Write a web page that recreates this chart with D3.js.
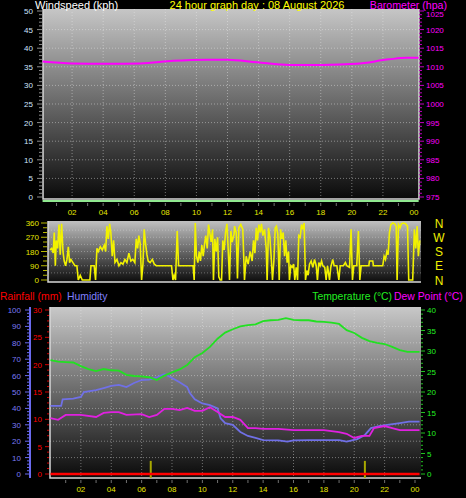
<!DOCTYPE html>
<html><head><meta charset="utf-8">
<script src="https://cdn.jsdelivr.net/npm/d3@7/dist/d3.min.js"></script>
<style>html,body{margin:0;padding:0;background:#000;}svg{display:block;font-family:"Liberation Sans",Arial,sans-serif;}</style>
</head><body>
<script>
// ---------- DATA ----------
const hourTicks = [2,4,6,8,10,12,14,16,18,20,22,24];
const hourLabels = ["02","04","06","08","10","12","14","16","18","20","22","00"];
const windTicks = [0,5,10,15,20,25,30,35,40,45,50];
const baroTicks = [975,980,985,990,995,1000,1005,1010,1015,1020,1025];
const dirTicks = [0,90,180,270,360];
const dirLetters = ["N","E","S","W","N"];
const humTicks = [0,10,20,30,40,50,60,70,80,90,100];
const rainTicks = [0,5,10,15,20,25,30];
const tempTicks = [0,5,10,15,20,25,30,35,40];

const baroHours = [0.1,2,4.2,6.4,8.5,10.7,12,13.9,16,18.1,20.3,22.4,23.5,24.3];
const baroValues = [1011.4,1010.9,1010.8,1010.9,1011.6,1011.9,1011.9,1011.2,1010.5,1010.5,1010.8,1012.0,1012.4,1012.4];
const windSpeedHours = [0.1,24.3];
const windSpeedValues = [0,0];

const dirHours = [0.13,0.24,0.34,0.41,0.48,0.54,0.63,0.72,0.80,0.89,0.98,1.06,1.15,1.24,1.33,1.41,1.50,1.63,1.76,1.89,1.98,2.11,2.24,2.52,2.74,2.81,3.02,3.11,3.20,3.29,3.42,3.55,3.68,3.77,3.85,3.94,4.03,4.11,4.20,4.29,4.38,4.51,4.64,4.77,4.90,5.03,5.16,5.29,5.42,5.55,5.68,5.77,5.86,5.94,6.03,6.12,6.21,6.29,6.38,6.47,6.55,6.68,6.82,6.95,7.08,8.08,8.17,8.25,8.34,8.45,8.54,9.49,9.56,9.63,9.71,9.80,9.89,9.97,10.06,10.15,10.24,10.32,10.41,10.50,10.58,10.67,10.76,10.82,10.91,11.00,11.09,11.17,11.26,11.35,11.43,11.52,11.61,11.70,11.78,11.87,11.96,12.04,12.17,
12.20,12.31,12.39,12.48,12.61,12.74,12.85,12.96,13.09,13.22,13.35,13.44,13.53,13.62,13.70,13.79,13.88,13.96,14.05,14.16,14.27,14.33,14.42,14.51,14.60,14.68,14.77,14.86,14.94,15.03,15.12,15.21,15.29,15.38,15.47,15.55,15.64,15.73,15.79,15.88,15.97,16.06,16.14,16.23,16.32,16.40,16.49,16.58,16.67,16.75,16.84,16.93,17.01,17.10,17.21,17.32,17.43,17.54,17.62,17.71,17.80,17.89,17.97,18.10,18.19,18.28,18.41,18.49,18.62,18.71,18.89,19.02,19.11,19.32,19.45,19.54,19.72,19.82,19.91,20.00,20.19,20.30,20.39,20.48,20.98,21.02,21.24,21.28,21.89,21.98,22.07,22.16,22.24,22.33,22.42,22.55,22.68,22.77,22.83,22.92,23.03,23.11,23.24,23.38,23.51,23.59,23.85,23.96,24.05,24.14,24.22,24.31];
const dirValues = [190,200,170,300,90,250,200,350,160,355,180,120,90,130,210,110,130,110,90,90,0,30,0,0,0,90,90,0,200,180,210,190,220,180,340,260,355,300,150,250,110,130,90,110,100,130,110,170,120,130,110,260,200,280,230,0,100,320,230,160,120,110,130,100,90,90,0,30,0,310,90,90,0,360,150,110,180,120,220,150,230,280,200,350,300,240,320,0,260,180,270,20,0,0,250,190,300,355,200,0,310,240,290,
340,300,10,330,350,320,0,150,100,180,120,250,170,330,250,350,300,355,280,320,200,0,330,270,140,0,120,330,340,290,0,320,260,300,150,250,110,180,0,90,80,100,0,80,0,280,270,350,320,360,0,60,30,100,120,80,130,90,0,110,90,120,90,80,0,90,0,80,130,90,90,0,90,90,110,90,80,320,0,90,90,310,0,90,90,120,120,90,90,150,130,180,160,300,350,360,355,340,0,350,330,355,360,355,340,0,0,320,200,340,150,250];

const tempHours = [0,0.5,1,1.5,2,2.5,3,3.5,4,4.5,5,5.5,6,6.5,7,7.5,8,8.5,9,9.5,10,10.5,11,11.5,12,12.5,13,13.5,14,14.5,15,15.5,16,16.5,17,17.5,18,18.5,19,19.5,20,20.5,21,21.5,22,22.5,23,23.5,24.3];
const tempValues = [27.8,27.4,27.3,27.2,26.3,25.6,25.1,25.6,25.3,25.2,24.2,23.9,23.8,23.6,22.9,24.0,24.8,25.5,26.6,28.5,29.5,31.0,33.0,34.5,35.3,36.0,36.3,36.5,37.3,37.5,37.6,38.0,37.6,37.5,37.5,37.2,37.1,36.9,36.6,35.1,34.4,33.2,32.4,32.0,31.7,31.0,30.2,29.8,29.8];
const humHours = [0,0.7,0.8,1.5,2,2.2,3,3.5,4,4.5,5,5.5,6,6.5,7,7.5,8,8.5,9,9.2,9.5,10,10.5,11,11.2,11.5,12,12.5,13,13.5,14,15,15.6,16,17,18,19,19.5,20.2,20.7,21.1,21.7,23,23.6,24.3];
const humValues = [41.5,41.5,45.5,46,47,50,51.2,52.4,53.7,54.3,53,55.5,57.3,57.5,59,61,58.5,56,53,49,45.5,43,42,40,34,31,30,25.6,23.2,22,20.7,20.5,19.7,20.5,20.7,20.7,20.7,19.7,21.3,23.8,28,29.3,31,31.9,31.9];
const dewHours = [0,0.5,1,2,3,3.5,4,4.5,5,6,6.5,7,7.5,8,8.5,9,9.5,10,10.5,11,11.5,12,12.5,13,13.5,14,15,16,17,18,19,19.5,20,20.5,21,21.3,22,22.5,23,23.5,24.3];
const dewValues = [13.6,13.2,14.4,14.4,13.9,14.9,15.1,15.1,14.4,14.6,13.9,14.4,15.9,15.9,15.6,16.1,15.4,15.4,16.3,15.1,13.9,13.9,13.2,11.2,11.2,11.0,11.0,10.7,10.7,10.7,10.2,9.8,8.8,9.3,9.3,11.2,11.7,11.2,10.7,10.7,10.7];
const rainHours = [0,24.3];
const rainValues = [0,0];
const rainRateHours = [6.6,20.7];
const rainRateValues = [2.4,2.4];

// ---------- CHART ----------
const W=466,H=498;
const svg=d3.select("body").append("svg").attr("width",W).attr("height",H);
svg.append("rect").attr("width",W).attr("height",H).attr("fill","#000");
const defs=svg.append("defs");
function grad(id,c1,c2){const g=defs.append("linearGradient").attr("id",id).attr("x1",0).attr("y1",0).attr("x2",0).attr("y2",1);
 g.append("stop").attr("offset","0%").attr("stop-color",c1);g.append("stop").attr("offset","100%").attr("stop-color",c2);}
grad("gTop","#c6c6c6","#0a0a0a");grad("gMid","#c0c0c0","#0c0c0c");grad("gBot","#c8c8c8","#0a0a0a");

const tickFont="8px", YEL="#e6e600";
function label(x,y,t,col,anchor,size){svg.append("text").attr("x",x).attr("y",y).attr("fill",col).attr("font-size",size||tickFont).attr("text-anchor",anchor||"start").text(t);}

// ===== TOP PANEL =====
const xTop=d3.scaleLinear().domain([0,24]).range([41,414]);
const yWind=d3.scaleLinear().domain([0,50]).range([197,11]);
const yBaro=d3.scaleLinear().domain([975,1025]).range([197,11]);
const topL=xTop(0.13), topR=xTop(24.32), topT=9, topB=199;
svg.append("rect").attr("x",topL).attr("y",topT).attr("width",topR-topL).attr("height",topB-topT).attr("fill","url(#gTop)");
const gTop=svg.append("g");
gTop.selectAll(".hg").data(windTicks.slice(1,-1)).join("line").attr("x1",topL).attr("x2",topR).attr("y1",d=>yWind(d)).attr("y2",d=>yWind(d)).attr("stroke","rgba(235,235,235,0.45)").attr("stroke-dasharray","1,2");
gTop.selectAll(".vg").data(hourTicks.slice(0,-1)).join("line").attr("y1",topT).attr("y2",topB).attr("x1",d=>xTop(d)).attr("x2",d=>xTop(d)).attr("stroke","rgba(235,235,235,0.45)").attr("stroke-dasharray","1,2");
svg.append("path").attr("d",`M${topL},${topT}V${topB}H${topR}V${topT}`).attr("fill","none").attr("stroke","#d8d8d8").attr("stroke-width",1.5);
svg.append("path").datum(windSpeedHours.map((h,i)=>[h,windSpeedValues[i]])).attr("d",d3.line().x(d=>xTop(d[0])).y(d=>yWind(d[1])+4)).attr("stroke","#90e890").attr("stroke-width",2).attr("fill","none");
svg.append("g").selectAll("line").data(d3.range(0,51,1)).join("line").attr("x1",d=>d%5?39:37).attr("x2",42).attr("y1",d=>yWind(d)).attr("y2",d=>yWind(d)).attr("stroke","#8c8c8c");
windTicks.forEach(v=>label(33,yWind(v)+3,v,"#cfe4ff","end"));
svg.append("g").selectAll("line").data(d3.range(975,1026,1)).join("line").attr("x1",topR).attr("x2",d=>d%5?topR+3:topR+5).attr("y1",d=>yBaro(d)).attr("y2",d=>yBaro(d)).attr("stroke","#c000c0");
baroTicks.forEach(v=>label(426,yBaro(v)+(v===1025?6:3),v,"#ff00ff","start"));
svg.append("g").selectAll("line").data(d3.range(1,25)).join("line").attr("x1",d=>xTop(d)).attr("x2",d=>xTop(d)).attr("y1",203).attr("y2",206).attr("stroke","#707070");
hourTicks.forEach((h,i)=>label(xTop(h),215,hourLabels[i],YEL,"middle"));
svg.append("path").datum(baroHours.map((h,i)=>[h,baroValues[i]])).attr("d",d3.line().curve(d3.curveMonotoneX).x(d=>xTop(d[0])).y(d=>yBaro(d[1]))).attr("stroke","#ff00ff").attr("stroke-width",2).attr("fill","none");
label(35,9,"Windspeed (kph)","#ffffff","start","11px");
label(257,9,"24 hour graph day : 08 August 2026","#ffff00","middle","11px");
label(447,9,"Barometer (hpa)","#ff00ff","end","10.6px");

// ===== MIDDLE PANEL =====
const xMid=d3.scaleLinear().domain([0,24]).range([48,415]);
const yDir=d3.scaleLinear().domain([0,360]).range([280,223]);
const mL=48,mR=421,mT=221,mB=282;
svg.append("rect").attr("x",mL).attr("y",mT).attr("width",mR-mL).attr("height",mB-mT).attr("fill","url(#gMid)");
svg.append("g").selectAll("line").data([45,90,135,180,225,270,315]).join("line").attr("x1",mL).attr("x2",mR).attr("y1",d=>yDir(d)).attr("y2",d=>yDir(d)).attr("stroke","rgba(235,235,235,0.35)").attr("stroke-dasharray","1,2");
svg.append("path").attr("d",`M${mL},${mT}V${mB}H${mR}`).attr("fill","none").attr("stroke","#d8d8d8").attr("stroke-width",1.5);
svg.append("g").selectAll("line").data(d3.range(0,361,30)).join("line").attr("x1",d=>d%90?43:41).attr("x2",47).attr("y1",d=>yDir(d)).attr("y2",d=>yDir(d)).attr("stroke","#b8b800");
dirTicks.forEach(v=>label(39,yDir(v)+3,v,YEL,"end"));
dirTicks.forEach((v,i)=>label(439,yDir(v)+4.5,dirLetters[i],"#f0f000","middle","12px"));
svg.append("defs").append("clipPath").attr("id","cMid").append("rect").attr("x",mL).attr("y",mT).attr("width",mR-mL).attr("height",mB-mT);
svg.append("path").datum(dirHours.map((h,i)=>[h,dirValues[i]])).attr("clip-path","url(#cMid)").attr("d",d3.line().x(d=>xMid(d[0])).y(d=>yDir(d[1]))).attr("stroke","#f2f200").attr("stroke-width",1.6).attr("fill","none");

// ===== BOTTOM PANEL =====
const xBot=d3.scaleLinear().domain([0,24]).range([50.5,415]);
const yHum=d3.scaleLinear().domain([0,100]).range([474,310]);
const yRain=d3.scaleLinear().domain([0,30]).range([474,310]);
const yTemp=d3.scaleLinear().domain([0,40]).range([474,310]);
const bL=50,bR=421,bT=307,bB=478;
svg.append("rect").attr("x",bL).attr("y",bT).attr("width",bR-bL).attr("height",bB-bT).attr("fill","url(#gBot)");
svg.append("g").selectAll("line").data(humTicks.slice(1,-1)).join("line").attr("x1",bL).attr("x2",bR).attr("y1",d=>yHum(d)).attr("y2",d=>yHum(d)).attr("stroke","rgba(235,235,235,0.42)").attr("stroke-dasharray","1,2");
svg.append("g").selectAll("line").data(hourTicks.slice(0,-1)).join("line").attr("y1",bT).attr("y2",bB).attr("x1",d=>xBot(d)).attr("x2",d=>xBot(d)).attr("stroke","rgba(235,235,235,0.42)").attr("stroke-dasharray","1,2");
svg.append("path").attr("d",`M${bL},${bT}V${bB}H${bR}`).attr("fill","none").attr("stroke","#d8d8d8").attr("stroke-width",1.5);
svg.append("line").attr("x1",30).attr("x2",30).attr("y1",307).attr("y2",478).attr("stroke","#6a6af0").attr("stroke-width",2);
svg.append("g").selectAll("line").data(d3.range(0,101,2)).join("line").attr("x1",d=>d%10?27:25).attr("x2",30).attr("y1",d=>yHum(d)).attr("y2",d=>yHum(d)).attr("stroke","#6a6af0");
humTicks.forEach(v=>label(21,yHum(v)+3,v,"#7a7af5","end"));
svg.append("g").selectAll("line").data(d3.range(0,31,1)).join("line").attr("x1",d=>d%5?47:45).attr("x2",49).attr("y1",d=>yRain(d)).attr("y2",d=>yRain(d)).attr("stroke","#d00000");
rainTicks.forEach(v=>label(42,yRain(v)+3,v,"#ff0000","end"));
svg.append("g").selectAll("line").data(d3.range(0,41,1)).join("line").attr("x1",bR).attr("x2",d=>d%5?bR+2:bR+4).attr("y1",d=>yTemp(d)).attr("y2",d=>yTemp(d)).attr("stroke","#20c020");
tempTicks.forEach(v=>label(427,yTemp(v)+3,v,"#22ee22","start"));
svg.append("g").selectAll("line").data(d3.range(1,25)).join("line").attr("x1",d=>xBot(d)).attr("x2",d=>xBot(d)).attr("y1",480).attr("y2",483).attr("stroke","#707070");
hourTicks.forEach((h,i)=>label(xBot(h),492,hourLabels[i],YEL,"middle"));
const lineB=(y)=>d3.line().x(d=>xBot(d[0])).y(d=>y(d[1]));
svg.append("path").datum(humHours.map((h,i)=>[h,humValues[i]])).attr("d",lineB(yHum)).attr("stroke","#7070e6").attr("stroke-width",1.8).attr("fill","none");
svg.append("path").datum(dewHours.map((h,i)=>[h,dewValues[i]])).attr("d",lineB(yTemp)).attr("stroke","#e020e0").attr("stroke-width",1.8).attr("fill","none");
svg.append("path").datum(tempHours.map((h,i)=>[h,tempValues[i]])).attr("d",lineB(yTemp)).attr("stroke","#22e022").attr("stroke-width",1.8).attr("fill","none");
svg.append("g").selectAll("line").data(rainRateHours.map((h,i)=>[h,rainRateValues[i]])).join("line").attr("x1",d=>xBot(d[0])).attr("x2",d=>xBot(d[0])).attr("y1",yRain(0)+4).attr("y2",d=>yRain(d[1])).attr("stroke","#a8a800").attr("stroke-width",2);
svg.append("path").datum(rainHours.map((h,i)=>[h,rainValues[i]])).attr("d",lineB(yRain)).attr("stroke","#ff0000").attr("stroke-width",2.5).attr("fill","none");
label(0,300,"Rainfall (mm)","#ff0000","start","10.4px");
label(67,300,"Humidity","#8080ff","start","10.4px");
label(392,300,"Temperature (°C)","#22ee22","end","10.4px");
label(394,300,"Dew Point (°C)","#ff00ff","start","10.4px");
</script>
</body></html>
